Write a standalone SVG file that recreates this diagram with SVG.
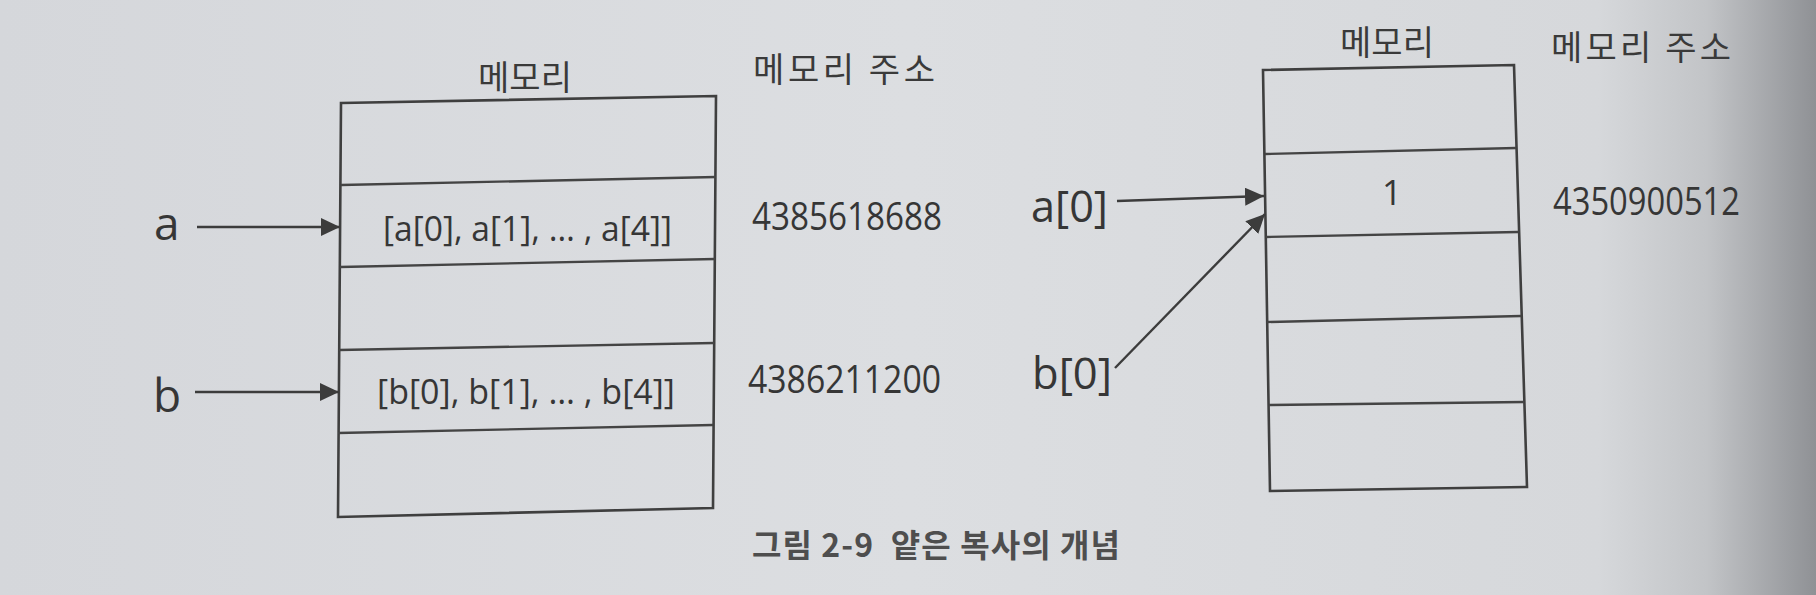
<svg xmlns="http://www.w3.org/2000/svg" width="1816" height="595" viewBox="0 0 1816 595">
  <defs>
    <linearGradient id="page" x1="0" y1="0" x2="1" y2="0">
      <stop offset="0" stop-color="#d5d7db"/>
      <stop offset="0.5" stop-color="#dcdee1"/>
      <stop offset="0.88" stop-color="#d6d8db"/>
      <stop offset="0.94" stop-color="#c2c4c7"/>
      <stop offset="1" stop-color="#8f9195"/>
    </linearGradient>
    <marker id="arrow" markerUnits="userSpaceOnUse" markerWidth="20" markerHeight="18" refX="19" refY="9" orient="auto">
      <path d="M0,0 L19,9 L0,18 Z" fill="#3c3c3c"/>
    </marker>
    <style>
      .box { fill: none; stroke: #3f3f3f; stroke-width: 2.6; stroke-linejoin: miter; }
      .div { stroke: #444; stroke-width: 2.4; }
      .conn { stroke: #3c3c3c; stroke-width: 2.4; fill: none; marker-end: url(#arrow); }
      .ko { font-family: "Noto Sans CJK KR", "Noto Sans", sans-serif; font-size: 34px; fill: #3a3a3a; }
      .lat { font-family: "Open Sans", "Liberation Sans", sans-serif; fill: #363636; }
      .lbl { font-size: 46px; }
      .lbl2 { font-size: 44px; }
      .cell { font-size: 35px; }
      .addr { font-size: 39px; }
      .cap { font-family: "Noto Sans CJK KR", "Noto Sans", sans-serif; font-size: 32px; font-weight: bold; fill: #4e4e4e; }
    </style>
  </defs>

  <rect x="0" y="0" width="1816" height="595" fill="url(#page)"/>

  <!-- Left memory diagram -->
  <g id="left-memory">
    <text class="ko" x="525" y="90" text-anchor="middle">메모리</text>
    <path class="box" d="M341,103 L716,96 L713,508 L338,517 Z"/>
    <line class="div" x1="341" y1="185" x2="716" y2="177"/>
    <line class="div" x1="340" y1="267" x2="715" y2="259"/>
    <line class="div" x1="339" y1="350" x2="714" y2="343"/>
    <line class="div" x1="338" y1="433" x2="713" y2="425"/>
    <text class="lat cell" x="383" y="241" textLength="289" lengthAdjust="spacingAndGlyphs">[a[0], a[1], … , a[4]]</text>
    <text class="lat cell" x="377" y="404" textLength="298" lengthAdjust="spacingAndGlyphs">[b[0], b[1], … , b[4]]</text>
  </g>

  <g id="left-address">
    <text class="ko" x="753" y="82" textLength="182" lengthAdjust="spacing">메모리 주소</text>
    <text class="lat addr" x="752" y="230" textLength="190" lengthAdjust="spacingAndGlyphs">4385618688</text>
    <text class="lat addr" x="748" y="393" textLength="193" lengthAdjust="spacingAndGlyphs">4386211200</text>
  </g>

  <g id="label-a">
    <text class="lat lbl" x="154" y="240">a</text>
  </g>
  <g id="label-b">
    <text class="lat lbl" x="153" y="412">b</text>
  </g>

  <!-- Right memory diagram -->
  <g id="right-memory">
    <text class="ko" x="1387" y="55" text-anchor="middle">메모리</text>
    <path class="box" d="M1263,70 L1514,65 L1527,487 L1270,491 Z"/>
    <line class="div" x1="1265" y1="154" x2="1516" y2="148"/>
    <line class="div" x1="1266" y1="237" x2="1518" y2="232"/>
    <line class="div" x1="1267" y1="322" x2="1521" y2="316"/>
    <line class="div" x1="1269" y1="405" x2="1524" y2="402"/>
    <text class="lat cell" x="1392" y="205" text-anchor="middle">1</text>
  </g>

  <g id="right-address">
    <text class="ko" x="1551" y="60" textLength="180" lengthAdjust="spacing">메모리 주소</text>
    <text class="lat addr" x="1553" y="215" textLength="187" lengthAdjust="spacingAndGlyphs">4350900512</text>
  </g>

  <g id="label-a0">
    <text class="lat lbl2" x="1031" y="222" textLength="77" lengthAdjust="spacingAndGlyphs">a[0]</text>
  </g>
  <g id="label-b0">
    <text class="lat lbl2" x="1032" y="389" textLength="80" lengthAdjust="spacingAndGlyphs">b[0]</text>
  </g>

  <!-- Connectors -->
  <g id="connectors">
    <line class="conn" x1="197" y1="227" x2="340" y2="227"/>
    <line class="conn" x1="195" y1="392" x2="339" y2="392"/>
    <line class="conn" x1="1117" y1="201" x2="1264" y2="196"/>
    <line class="conn" x1="1115" y1="368" x2="1265" y2="214"/>
  </g>

  <g id="caption">
    <text class="cap" x="752" y="557" textLength="368" lengthAdjust="spacing" xml:space="preserve">그림 2-9  얕은 복사의 개념</text>
  </g>
</svg>
